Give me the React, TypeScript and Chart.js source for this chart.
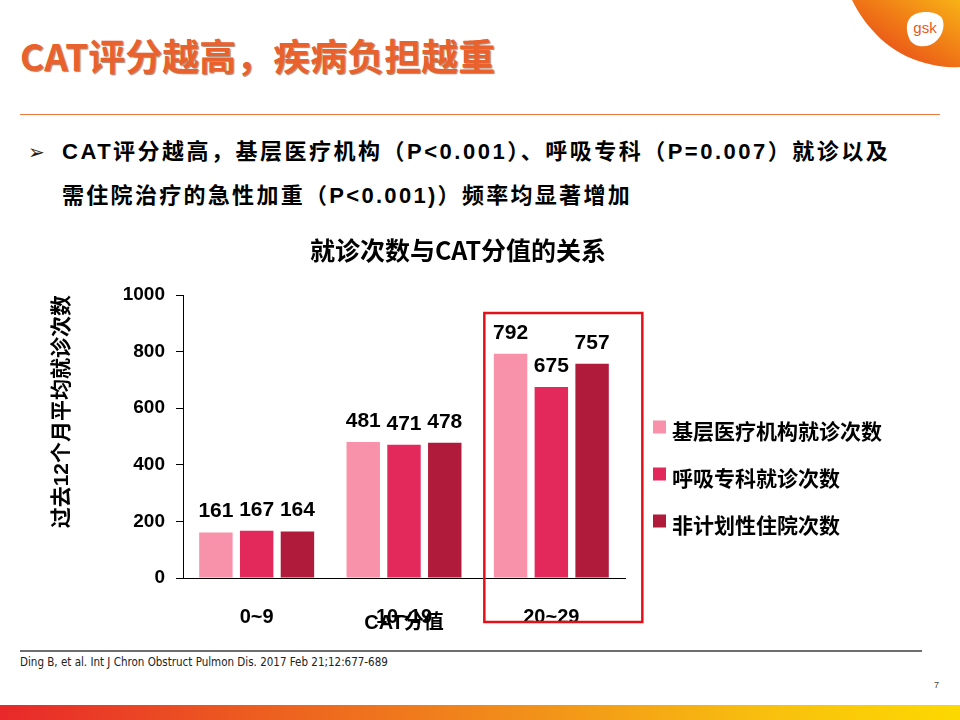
import React, { useEffect, useRef } from "react";
import { Chart, registerables } from "chart.js";

Chart.register(...registerables);

// ---------- data ----------
const categories = ["0~9", "10~19", "20~29"];
const seriesNames = ["基层医疗机构就诊次数", "呼吸专科就诊次数", "非计划性住院次数"];
const primaryCareVisits = [161, 481, 792];
const respiratoryVisits = [167, 471, 675];
const unplannedAdmissions = [164, 478, 757];
const seriesColors = ["#F892AA", "#E3285B", "#B11B3B"];
const yAxisMin = 0;
const yAxisMax = 1000;
const yAxisStep = 200;
const highlightedCategory = "20~29";

const slideTitle = "CAT评分越高，疾病负担越重";
const bulletLine1 = "CAT评分越高，基层医疗机构（P<0.001）、呼吸专科（P=0.007）就诊以及";
const bulletLine2 = "需住院治疗的急性加重（P<0.001)）频率均显著增加";
const chartTitle = "就诊次数与CAT分值的关系";
const xAxisTitle = "CAT分值";
const yAxisTitle = "过去12个月平均就诊次数";
const reference = "Ding B, et al. Int J Chron Obstruct Pulmon Dis. 2017 Feb 21;12:677-689";
const pageNumber = "7";

const FONT = '"Liberation Sans", "Noto Sans CJK SC", sans-serif';
const CJK_FONT = '"Noto Sans CJK SC", "Liberation Sans", sans-serif';

// ---------- plugins ----------
const valueLabelPlugin = {
  id: "valueLabels",
  afterDatasetsDraw(chart: any) {
    const { ctx } = chart;
    ctx.save();
    ctx.font = `bold 21px ${FONT}`;
    ctx.fillStyle = "#000";
    ctx.textAlign = "center";
    ctx.textBaseline = "middle";
    chart.data.datasets.forEach((ds: any, di: number) => {
      const meta = chart.getDatasetMeta(di);
      meta.data.forEach((bar: any, i: number) => {
        ctx.fillText(String(ds.data[i]), bar.x, bar.y - 21);
      });
    });
    ctx.restore();
  },
};

const highlightPlugin = {
  id: "highlightBox",
  afterDraw(chart: any) {
    const { ctx, chartArea } = chart;
    const idx = categories.indexOf(highlightedCategory);
    if (idx < 0) return;
    const cx = chart.scales.x.getPixelForValue(idx);
    ctx.save();
    ctx.strokeStyle = "#E3101A";
    ctx.lineWidth = 2.5;
    ctx.strokeRect(cx - 67, chartArea.top + 18, 158, chartArea.bottom - chartArea.top + 26);
    ctx.restore();
  },
};

const sideLegendPlugin = {
  id: "sideLegend",
  afterDraw(chart: any) {
    const { ctx, chartArea } = chart;
    const x0 = chartArea.right + 28;
    const y0 = chartArea.top + 132;
    ctx.save();
    chart.data.datasets.forEach((ds: any, i: number) => {
      const y = y0 + i * 47;
      ctx.fillStyle = ds.backgroundColor;
      ctx.fillRect(x0, y - 6.5, 13, 13);
      ctx.fillStyle = "#000";
      ctx.font = `bold 21px ${CJK_FONT}`;
      ctx.textAlign = "left";
      ctx.textBaseline = "middle";
      ctx.fillText(ds.label, x0 + 19, y + 4);
    });
    ctx.restore();
  },
};

function BarChart() {
  const ref = useRef<HTMLCanvasElement | null>(null);
  useEffect(() => {
    if (!ref.current) return;
    const seriesValues = [primaryCareVisits, respiratoryVisits, unplannedAdmissions];
    const chart = new Chart(ref.current, {
      type: "bar",
      data: {
        labels: categories,
        datasets: seriesNames.map((name, i) => ({
          label: name,
          data: seriesValues[i],
          backgroundColor: seriesColors[i],
          borderWidth: 0,
          barPercentage: 0.82,
          categoryPercentage: 0.83,
        })),
      },
      options: {
        responsive: false,
        animation: false,
        layout: { padding: { left: 0, right: 0, top: 0, bottom: 15 } },
        plugins: {
          legend: { display: false },
          tooltip: { enabled: false },
          title: {
            display: true,
            text: chartTitle,
            color: "#000",
            font: { size: 25, weight: "bold", family: CJK_FONT },
            padding: { top: 5, bottom: 30 },
          },
        },
        scales: {
          x: {
            grid: { display: false },
            border: { display: true, color: "#000", width: 1 },
            ticks: { color: "#000", font: { size: 20, weight: "bold", family: FONT }, padding: 19 },
            title: {
              display: true,
              text: xAxisTitle,
              color: "#000",
              font: { size: 20, weight: "bold", family: FONT },
              padding: { top: 0, bottom: 0 },
            },
            afterFit: (scale: any) => {
              scale.height = 57;
            },
          },
          y: {
            min: yAxisMin,
            max: yAxisMax,
            ticks: {
              stepSize: yAxisStep,
              color: "#000",
              font: { size: 19, weight: "bold", family: FONT },
              padding: 11,
              callback: (v: any) => String(v),
            },
            grid: { display: true, drawOnChartArea: false, drawTicks: true, tickLength: 7, tickColor: "#000", tickWidth: 1 },
            border: { display: true, color: "#000", width: 1 },
            title: {
              display: true,
              text: yAxisTitle,
              align: "end",
              color: "#000",
              font: { size: 21, weight: "bold", family: FONT },
              padding: { top: 50, bottom: 0 },
            },
            afterFit: (scale: any) => {
              scale.width = 183;
            },
          },
          legendSpace: {
            position: "right",
            display: true,
            grid: { display: false, drawTicks: false },
            border: { display: false },
            ticks: { display: false },
            afterFit: (scale: any) => {
              scale.width = 291;
            },
          },
        },
      } as any,
      plugins: [valueLabelPlugin, highlightPlugin, sideLegendPlugin],
    });
    return () => chart.destroy();
  }, []);
  return (
    <canvas
      ref={ref}
      width={916}
      height={420}
      style={{ position: "absolute", left: 0, top: 230, width: 916, height: 420 }}
    />
  );
}

export default function App() {
  return (
    <div
      style={{
        position: "absolute",
        left: 0,
        top: 0,
        width: 960,
        height: 720,
        background: "#fff",
        overflow: "hidden",
        fontFamily: FONT,
      }}
    >
      {/* logo */}
      <svg style={{ position: "absolute", left: 840, top: 0 }} width={120} height={80} viewBox="840 0 120 80">
        <defs>
          <linearGradient id="gskg" x1="0" y1="1" x2="1" y2="0">
            <stop offset="0" stopColor="#E2351E" />
            <stop offset="0.5" stopColor="#EF7216" />
            <stop offset="1" stopColor="#F8B216" />
          </linearGradient>
        </defs>
        <path d="M852 0 C866 28 890 54 925 63 C940 67 952 68 960 67 L960 0 Z" fill="url(#gskg)" />
        <path
          d="M910 18 C916 10 936 10 942 18 C946 26 942 40 930 45 C922 48 912 46 909 38 C906 30 906 23 910 18 Z"
          fill="#fff"
        />
        <text x="925" y="33" fontSize="15" fill="#E8591C" textAnchor="middle" fontFamily="Liberation Sans">
          gsk
        </text>
      </svg>

      {/* slide title */}
      <div
        style={{
          position: "absolute",
          left: 20,
          top: 33,
          fontSize: 37,
          lineHeight: "44px",
          fontWeight: "bold",
          color: "#E9612C",
          fontFamily: CJK_FONT,
          textShadow: "1px 1px 1px rgba(90,40,10,0.55)",
          whiteSpace: "nowrap",
        }}
      >
        {slideTitle}
      </div>
      <div style={{ position: "absolute", left: 20, top: 114, width: 920, height: 1, background: "#EC7A3C" }} />

      {/* bullet */}
      <div
        style={{
          position: "absolute",
          left: 28,
          top: 139,
          fontSize: 20,
          lineHeight: "26px",
          fontFamily: '"DejaVu Sans", sans-serif',
          color: "#222",
        }}
      >
        ➢
      </div>
      <div
        style={{
          position: "absolute",
          left: 62,
          top: 137,
          fontSize: 22,
          lineHeight: "30px",
          fontWeight: "bold",
          color: "#000",
          letterSpacing: 2.5,
          whiteSpace: "nowrap",
        }}
      >
        {bulletLine1}
      </div>
      <div
        style={{
          position: "absolute",
          left: 62,
          top: 181,
          fontSize: 22,
          lineHeight: "30px",
          fontWeight: "bold",
          color: "#000",
          letterSpacing: 2.3,
          whiteSpace: "nowrap",
        }}
      >
        {bulletLine2}
      </div>

      <BarChart />

      {/* footer */}
      <div style={{ position: "absolute", left: 20, top: 650, width: 902, height: 2, background: "#6E6E6E" }} />
      <div
        style={{
          position: "absolute",
          left: 20,
          top: 655,
          fontSize: 11.5,
          lineHeight: "14px",
          fontFamily: '"Liberation Sans Narrow", "DejaVu Sans Condensed", sans-serif',
          color: "#222",
          whiteSpace: "nowrap",
        }}
      >
        {reference}
      </div>
      <div style={{ position: "absolute", left: 934, top: 679, fontSize: 9, lineHeight: "12px", color: "#444" }}>
        {pageNumber}
      </div>
      <div
        style={{
          position: "absolute",
          left: 0,
          top: 705,
          width: 960,
          height: 15,
          background: "linear-gradient(to right, #E8282A 0%, #EC5A20 25%, #F2901A 55%, #F8C00E 80%, #FDD800 100%)",
        }}
      />
    </div>
  );
}
